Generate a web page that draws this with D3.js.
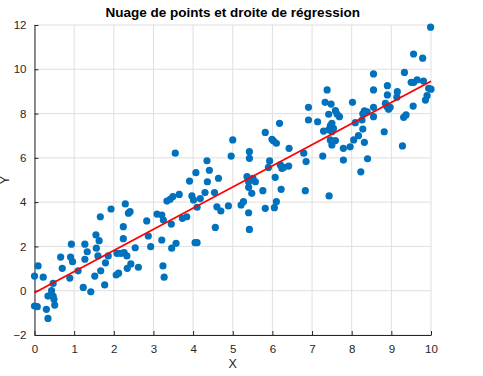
<!DOCTYPE html>
<html>
<head>
<meta charset="utf-8">
<script src="https://cdn.jsdelivr.net/npm/d3@7"></script>
<style>
  body { margin: 0; background: #fff; }
  text { font-family: "Liberation Sans", Arial, sans-serif; }
</style>
</head>
<body>
<div id="chart"></div>
<script>
const width = 483
const height = 376
const margin = { top: 25, right: 52, bottom: 41, left: 34.5 }

// donnees
const xs = [1.66,1.55,1.63,0.93,1.27,1.56,1.33,0.66,0.91,1.27,1.60,0.96,1.79,0.09,0.70,1.10,1.67,0.00,0.22,0.89,
  1.52,0.47,1.77,1.23,0.43,1.42,0.34,0.47,0.49,0.00,0.07,0.51,0.30,0.34,
  3.55,3.34,3.42,3.49,3.65,2.29,1.93,2.37,2.41,3.09,3.21,3.25,2.83,2.24,3.45,2.87,2.24,3.21,3.57,2.54,2.93,3.46,
  2.08,2.18,2.26,2.33,1.86,2.43,2.34,2.62,3.24,2.12,2.06,3.27,
  5.00,4.96,5.42,4.35,4.41,4.07,4.64,3.91,4.36,5.36,5.40,3.97,4.01,4.18,4.30,4.54,4.10,4.60,4.70,4.89,5.21,5.27,5.40,
  3.84,3.73,4.56,5.42,4.05,4.10,
  6.91,6.91,7.14,6.18,5.82,5.99,6.03,6.10,6.42,5.42,6.79,6.85,5.93,6.20,6.28,6.41,6.24,5.90,5.51,5.57,5.40,5.48,
  6.07,5.76,6.22,6.83,6.10,6.05,5.82,
  8.55,8.55,8.90,8.90,7.38,7.33,7.48,8.02,7.59,7.63,7.42,7.69,8.32,8.39,8.28,8.55,8.85,8.89,8.55,7.50,7.46,7.54,
  7.42,7.50,7.29,8.09,8.26,8.28,8.82,8.17,8.05,7.96,7.46,7.50,7.59,8.32,7.79,7.27,7.79,8.40,8.23,7.43,
  9.99,9.56,9.79,9.33,9.50,9.56,9.65,9.81,9.94,10.0,9.15,9.14,9.90,9.86,8.97,8.93,9.55,9.37,9.31,9.28]
const ys = [3.34,2.52,2.26,2.10,2.10,1.92,1.76,1.52,1.52,1.42,1.57,1.31,1.26,1.12,1.01,0.90,0.90,0.66,0.61,0.57,
  0.66,0.33,0.26,0.15,0.00,-0.05,-0.24,-0.24,-0.39,-0.69,-0.72,-0.65,-0.84,-1.25,
  6.21,4.05,4.13,4.25,4.35,3.92,3.69,3.50,3.57,3.46,3.42,3.19,3.15,2.89,3.01,2.47,2.35,2.29,2.14,1.94,1.99,1.92,
  1.69,1.69,1.72,1.57,1.57,1.21,1.01,1.06,1.12,0.79,0.71,0.61,
  6.81,6.08,6.28,5.87,5.44,5.33,5.08,4.95,4.92,5.15,4.67,4.28,4.10,4.16,4.43,4.43,3.77,3.79,3.60,3.83,3.87,4.02,3.52,
  3.34,3.27,2.86,2.77,2.17,2.17,
  8.28,7.71,7.63,7.56,7.15,6.84,6.76,6.66,6.43,5.98,6.21,5.83,5.86,5.68,5.57,5.63,5.52,5.57,5.08,4.92,4.92,4.40,
  5.12,4.52,4.58,4.52,4.02,3.75,3.72,
  9.79,9.07,9.26,8.84,9.07,8.51,8.43,8.51,8.13,7.98,7.97,7.86,8.12,8.08,7.99,8.28,8.46,8.31,7.86,7.56,7.44,7.33,
  7.26,7.18,7.21,7.59,7.71,7.30,7.18,7.00,6.81,6.50,6.81,6.58,6.78,6.70,6.43,6.08,5.90,5.96,5.37,4.28,
  11.90,10.69,10.50,9.86,9.41,9.40,9.52,9.47,9.14,9.10,8.99,8.74,8.81,8.61,8.28,8.19,8.34,7.94,7.83,6.54]
const xTicks = [0,1,2,3,4,5,6,7,8,9,10]
const yTicks = [-2,0,2,4,6,8,10,12]

const points = xs.map((x, i) => ({ x: x, y: ys[i] }))

const svg = d3.select("#chart").append("svg").attr("width", width).attr("height", height)
const innerW = width - margin.left - margin.right
const innerH = height - margin.top - margin.bottom

const x = d3.scaleLinear().domain([0, 10]).range([0, innerW])
const y = d3.scaleLinear().domain([-2, 12]).range([innerH, 0])

const g = svg.append("g").attr("transform", `translate(${margin.left}, ${margin.top})`)

// grille
g.append("g").selectAll("line").data(xTicks).join("line")
    .attr("x1", d => x(d)).attr("x2", d => x(d))
    .attr("y1", 0).attr("y2", innerH)
    .attr("stroke", "#dfdfdf").attr("stroke-width", 1)
g.append("g").selectAll("line").data(yTicks).join("line")
    .attr("x1", 0).attr("x2", innerW)
    .attr("y1", d => y(d)).attr("y2", d => y(d))
    .attr("stroke", "#dfdfdf").attr("stroke-width", 1)

// axes (ticks vers l'interieur, facon matlab)
const xAxis = d3.axisBottom(x).tickValues(xTicks).tickSize(-4).tickPadding(10).tickSizeOuter(0)
const yAxis = d3.axisLeft(y).tickValues(yTicks).tickSize(-4).tickPadding(8).tickSizeOuter(0)

const xAxisGroup = g.append("g").attr("transform", `translate(0, ${innerH})`).call(xAxis)
const yAxisGroup = g.append("g").call(yAxis)
for (const ag of [xAxisGroup, yAxisGroup]) {
    ag.selectAll("text").attr("font-size", 11.5).attr("fill", "#262626")
        .attr("font-family", "'Liberation Sans', Arial, sans-serif")
    ag.selectAll("line").attr("stroke", "#262626")
    ag.select(".domain").attr("stroke", "#262626")
}

// nuage
g.append("g").selectAll("circle").data(points).join("circle")
    .attr("cx", d => x(d.x))
    .attr("cy", d => y(d.y))
    .attr("r", 3.6)
    .attr("fill", "#0072BD")

// droite de regression (moindres carres)
const mx = d3.mean(points, d => d.x)
const my = d3.mean(points, d => d.y)
const slope = d3.sum(points, d => (d.x - mx) * (d.y - my)) / d3.sum(points, d => (d.x - mx) ** 2)
const intercept = my - slope * mx
const lineData = [0, 10].map(v => ({ x: v, y: intercept + slope * v }))

g.append("path")
    .datum(lineData)
    .attr("d", d3.line().x(d => x(d.x)).y(d => y(d.y)))
    .attr("stroke", "#FF0000")
    .attr("stroke-width", 1.8)
    .attr("fill", "none")

// titres
svg.append("text").attr("x", margin.left + innerW / 2).attr("y", 17)
    .attr("text-anchor", "middle").attr("font-weight", "bold").attr("font-size", 13.5)
    .attr("fill", "#000").text("Nuage de points et droite de régression")
svg.append("text").attr("x", margin.left + innerW / 2).attr("y", 368)
    .attr("text-anchor", "middle").attr("font-size", 12.5).attr("fill", "#262626").text("X")
svg.append("text").attr("transform", `translate(9, ${margin.top + innerH / 2}) rotate(-90)`)
    .attr("text-anchor", "middle").attr("font-size", 12.5).attr("fill", "#262626").text("Y")
</script>
</body>
</html>
